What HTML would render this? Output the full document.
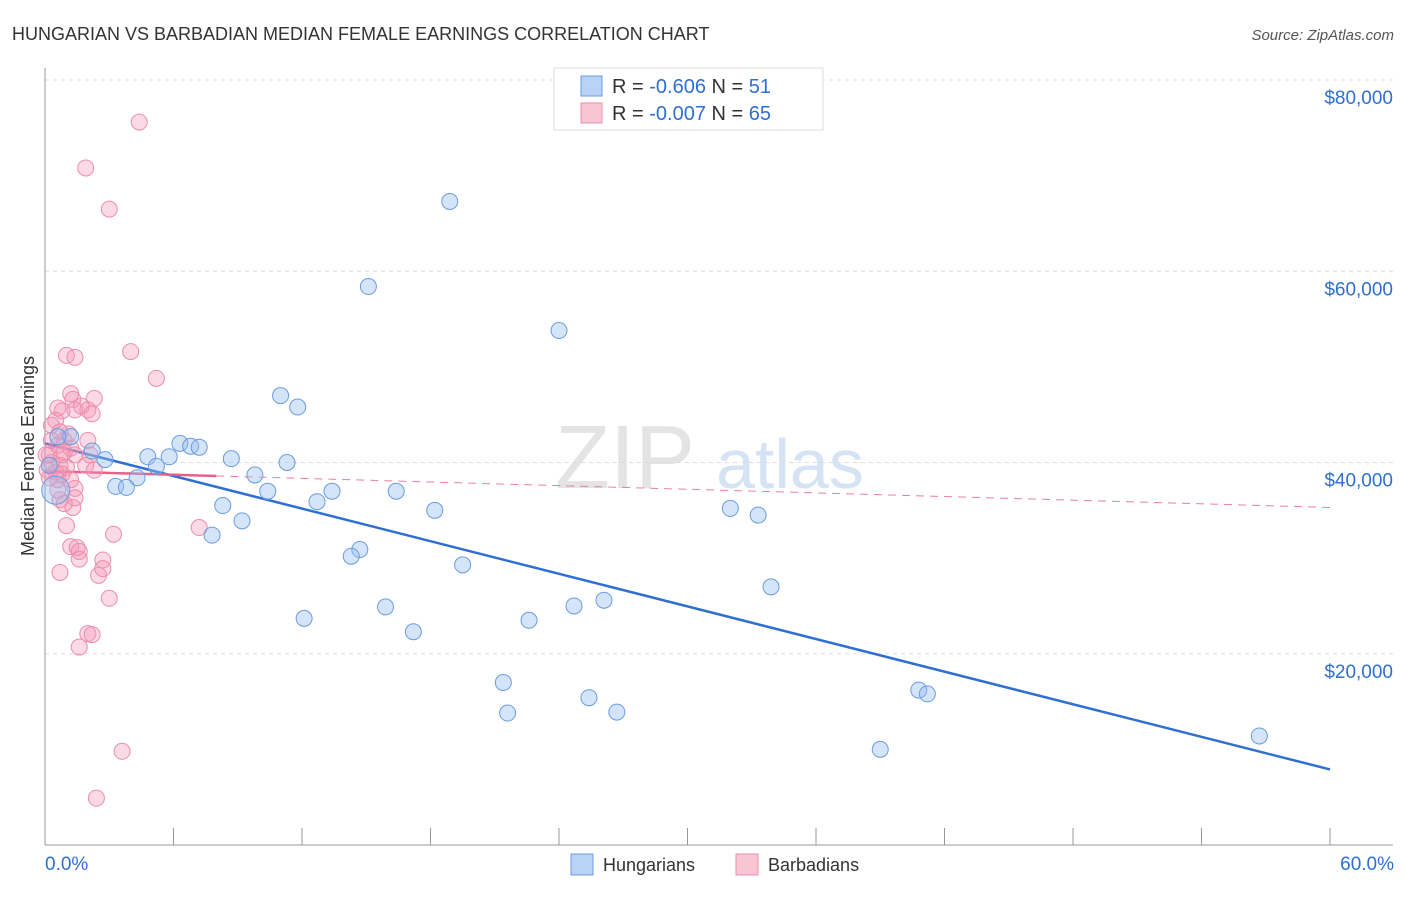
<!DOCTYPE html>
<html><head><meta charset="utf-8"><style>
body{margin:0;background:#fff;font-family:"Liberation Sans",sans-serif}
svg text{font-family:"Liberation Sans",sans-serif}
</style></head><body>
<svg id="chart" width="1406" height="892" viewBox="0 0 1406 892" xmlns="http://www.w3.org/2000/svg">
<text x="12" y="40" font-size="18" fill="#333">HUNGARIAN VS BARBADIAN MEDIAN FEMALE EARNINGS CORRELATION CHART</text>
<text x="1394" y="40" font-size="15" fill="#555" text-anchor="end" font-style="italic">Source: ZipAtlas.com</text>
<g><text x="555" y="488" font-size="90" fill="#e4e4e4" font-family="Liberation Serif">ZIP</text><text x="716" y="488" font-size="70" fill="#d6e3f5">atlas</text></g>
<g id="grid"></g>
<g id="axes"></g>
<text transform="translate(34,456) rotate(-90)" text-anchor="middle" font-size="18" fill="#333">Median Female Earnings</text>
<g id="trends"></g>
<g id="points"></g>
<g>
<rect x="554" y="68" width="269" height="62" fill="#fff" stroke="#ddd"/>
<rect x="581" y="76" width="21" height="20" fill="#b9d3f5" stroke="#6a9be0"/>
<rect x="581" y="103" width="21" height="20" fill="#f9c5d5" stroke="#ec8eab"/>
<text x="612" y="93" font-size="20" fill="#333">R = <tspan fill="#2f6fd1">-0.606</tspan>   N = <tspan fill="#2f6fd1"> 51</tspan></text>
<text x="612" y="120" font-size="20" fill="#333">R = <tspan fill="#2f6fd1">-0.007</tspan>   N = <tspan fill="#2f6fd1">65</tspan></text>
</g>
<g>
<rect x="571" y="854" width="22" height="21" fill="#b9d3f5" stroke="#6a9be0"/>
<text x="603" y="871" font-size="18" fill="#333">Hungarians</text>
<rect x="736" y="854" width="22" height="21" fill="#f9c5d5" stroke="#ec8eab"/>
<text x="768" y="871" font-size="18" fill="#333">Barbadians</text>
</g>
</svg>
<script>
const yTicks=[20000,40000,60000,80000];
const yTickLabels=["$20,000","$40,000","$60,000","$80,000"];
const xTicks=[0,6,12,18,24,30,36,42,48,54,60];
const xEndLabels=["0.0%","60.0%"];
const hungX=[18.9,15.1,24.0,11.0,11.8,6.3,6.8,7.2,1.2,2.2,2.8,4.8,5.8,5.2,8.7,11.3,9.8,4.3,3.3,3.8,10.4,13.4,16.4,12.7,8.3,18.2,9.2,7.8,14.7,14.3,19.5,32.0,33.3,33.9,26.1,24.7,15.9,12.1,22.6,17.2,21.4,21.6,25.4,26.7,40.8,41.2,39.0,56.7,0.6,0.5,0.2];
const hungY=[67300,58400,53800,47000,45800,42000,41700,41600,42700,41200,40300,40600,40600,39600,40400,40000,38700,38400,37500,37400,37000,37000,37000,35900,35500,35000,33900,32400,30900,30200,29300,35200,34500,27000,25600,25000,24900,23700,23500,22300,17000,13800,15400,13900,16200,15800,10000,11400,42700,37100,39700];
const barbX=[4.4,1.9,3.0,1.0,1.4,4.0,5.2,1.2,2.3,1.3,0.6,0.8,1.4,1.7,2.0,2.2,0.5,0.3,0.7,0.9,0.6,1.2,0.2,0.8,1.4,2.1,0.3,0.7,1.0,1.9,0.5,0.8,0.2,1.4,0.7,1.4,1.3,0.9,1.0,3.2,7.2,1.2,1.5,1.6,2.7,1.6,0.7,2.5,2.7,3.0,2.0,2.2,1.6,3.6,2.4,0.1,0.6,0.9,2.0,0.3,1.2,0.6,2.3,0.05,1.1];
const barbY=[75600,70800,66500,51200,51000,51600,48800,47200,46700,46600,45700,45400,45500,45900,45500,45100,44400,43900,43200,42300,41800,41500,40800,40800,40800,40800,40000,39700,39500,39700,39000,38800,38400,37300,36100,36300,35300,35700,33400,32500,33200,31200,31100,30700,29800,29900,28500,28200,28900,25800,22100,22000,20700,9800,4900,39200,38200,41100,42300,42300,38200,37100,39200,40800,43000];
const hungTrend=[42000,7900];
const barbTrend=[39100,35300];
const barbSolidEnd=8;
const L=45,R=1330,T=68,B=845;
const xs=v=>L+(v/60)*(R-L);
const ys=v=>B-(v/80000)*(B-80);
const NS="http://www.w3.org/2000/svg";
function mk(tag,attrs,parent){const e=document.createElementNS(NS,tag);for(const k in attrs)e.setAttribute(k,attrs[k]);parent.appendChild(e);return e;}
const grid=document.getElementById('grid'),axes=document.getElementById('axes');
yTicks.forEach((t,i)=>{
 const g=mk('line',{x1:L,x2:1393,y1:ys(t),y2:ys(t),stroke:'#ddd','stroke-dasharray':'4,4'},grid);
 
 
 const tx=mk('text',{x:1393,y:ys(t)+24,'font-size':19,fill:'#2f6fd1','text-anchor':'end'},axes);
 tx.textContent=yTickLabels[i];
 
 
});
let a=mk('line',{x1:L,x2:L,y1:T,y2:B,stroke:'#999'},axes);


a=mk('line',{x1:L,x2:1393,y1:B,y2:B,stroke:'#999'},axes);


xTicks.forEach(t=>{
 const tk=mk('line',{x1:xs(t),x2:xs(t),y1:828,y2:B,stroke:'#999'},axes);
 
 
});
let xl=mk('text',{x:45,y:870,'font-size':19,fill:'#2f6fd1'},axes);xl.textContent=xEndLabels[0];


xl=mk('text',{x:1394,y:870,'font-size':19,fill:'#2f6fd1','text-anchor':'end'},axes);xl.textContent=xEndLabels[1];


const pts=document.getElementById('points');
barbX.forEach((x,i)=>{
 const c=mk('circle',{cx:xs(x),cy:ys(barbY[i]),r:8,fill:'rgba(244,150,180,0.35)',stroke:'#ec8eab','stroke-width':1},pts);
 
 
});
hungX.forEach((x,i)=>{
 const c=mk('circle',{cx:xs(x),cy:ys(hungY[i]),r:(i==49?14:8),fill:'rgba(150,190,240,0.4)',stroke:'#6a9be0','stroke-width':1},pts);
 
 
});
const tr=document.getElementById('trends');
let l=mk('line',{x1:xs(0),y1:ys(hungTrend[0]),x2:xs(60),y2:ys(hungTrend[1]),stroke:'#2f6fd1','stroke-width':2.5},tr);


const bAt=x=>barbTrend[0]+(barbTrend[1]-barbTrend[0])*x/60;
l=mk('line',{x1:xs(0),y1:ys(bAt(0)),x2:xs(barbSolidEnd),y2:ys(bAt(barbSolidEnd)),stroke:'#e8608a','stroke-width':2.5},tr);


l=mk('line',{x1:xs(barbSolidEnd),y1:ys(bAt(barbSolidEnd)),x2:xs(60),y2:ys(bAt(60)),stroke:'#e8809f','stroke-width':1,'stroke-dasharray':'8,6'},tr);


</script>
</body></html>
